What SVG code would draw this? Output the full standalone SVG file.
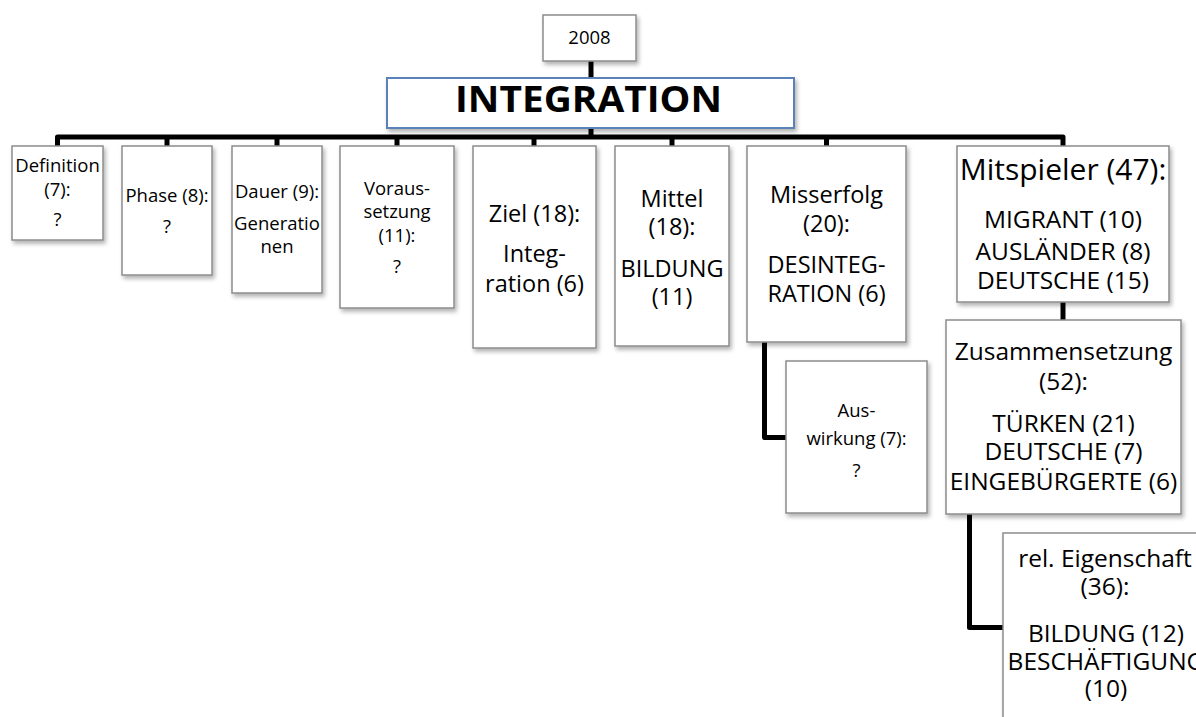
<svg xmlns="http://www.w3.org/2000/svg" width="1196" height="717" viewBox="0 0 1196 717">
<defs>
<filter id="sh" x="-10%" y="-10%" width="130%" height="130%">
<feDropShadow dx="2" dy="3" stdDeviation="2" flood-color="#000" flood-opacity="0.3"/>
</filter>
<style>
.box{fill:#fff;stroke:#8c8c8c;stroke-width:1.5;filter:url(#sh)}
.main{fill:#fff;stroke:#5a82b8;stroke-width:2;filter:url(#sh)}
text{font-family:"Open Sans","Liberation Sans",sans-serif;fill:#000;text-anchor:middle}
.s{font-size:18.5px}
.m{font-size:23.5px}
.l{font-size:24.5px}
.xl{font-size:30px}
.t{font-size:35px;font-weight:bold}
.c{fill:none;stroke:#000;stroke-width:5;stroke-linejoin:round;stroke-linecap:butt}
</style>
</defs>
<g id="connectors">
<path class="c" d="M591,61 V78"/>
<path class="c" d="M591,128 V137"/>
<path class="c" d="M57.5,146 V137 H1063 V146"/>
<path class="c" d="M167,137 V146"/>
<path class="c" d="M277,137 V146"/>
<path class="c" d="M397,137 V146"/>
<path class="c" d="M534,137 V146"/>
<path class="c" d="M672,137 V146"/>
<path class="c" d="M826.5,137 V146"/>
<path class="c" d="M1063,302 V320"/>
<path class="c" d="M764.5,342 V437.5 H786"/>
<path class="c" d="M969.5,514 V627.5 H1003"/>
</g>
<g id="n2008">
<rect class="box" x="543" y="15" width="93" height="46"/>
<text class="s" x="589.5" y="44">2008</text>
</g>
<g id="integration">
<rect class="main" x="387" y="78" width="407" height="50"/>
<text class="t" x="588.5" y="112" textLength="267" lengthAdjust="spacingAndGlyphs">INTEGRATION</text>
</g>
<g id="definition">
<rect class="box" x="12" y="146" width="91" height="94"/>
<text class="s" x="57.5" y="172">Definition</text>
<text class="s" x="57.5" y="196">(7):</text>
<text class="s" x="57.5" y="226">?</text>
</g>
<g id="phase">
<rect class="box" x="122" y="146" width="90" height="129"/>
<text class="s" x="167" y="202">Phase (8):</text>
<text class="s" x="167" y="233">?</text>
</g>
<g id="dauer">
<rect class="box" x="232" y="146" width="90" height="147"/>
<text class="s" x="277" y="198">Dauer (9):</text>
<text class="s" x="277" y="230">Generatio</text>
<text class="s" x="277" y="253">nen</text>
</g>
<g id="voraussetzung">
<rect class="box" x="340" y="146" width="114" height="162"/>
<text class="s" x="397" y="195">Voraus-</text>
<text class="s" x="397" y="218">setzung</text>
<text class="s" x="397" y="242">(11):</text>
<text class="s" x="397" y="273">?</text>
</g>
<g id="ziel">
<rect class="box" x="473" y="146" width="123" height="202"/>
<text class="m" x="534.5" y="222">Ziel (18):</text>
<text class="m" x="534.5" y="262">Integ-</text>
<text class="m" x="534.5" y="292">ration (6)</text>
</g>
<g id="mittel">
<rect class="box" x="615" y="146" width="114" height="200"/>
<text class="m" x="672" y="207">Mittel</text>
<text class="m" x="672" y="235">(18):</text>
<text class="m" x="672" y="277">BILDUNG</text>
<text class="m" x="672" y="305">(11)</text>
</g>
<g id="misserfolg">
<rect class="box" x="747" y="146" width="159" height="196"/>
<text class="m" x="826.5" y="203">Misserfolg</text>
<text class="m" x="826.5" y="232">(20):</text>
<text class="m" x="826.5" y="273">DESINTEG-</text>
<text class="m" x="826.5" y="302">RATION (6)</text>
</g>
<g id="mitspieler">
<rect class="box" x="957" y="146" width="212" height="156"/>
<text class="xl" x="1063" y="180">Mitspieler (47):</text>
<text class="l" x="1063" y="228">MIGRANT (10)</text>
<text class="l" x="1063" y="260">AUSLÄNDER (8)</text>
<text class="l" x="1063" y="289">DEUTSCHE (15)</text>
</g>
<g id="auswirkung">
<rect class="box" x="786" y="361" width="141" height="152"/>
<text class="s" x="856.5" y="417">Aus-</text>
<text class="s" x="856.5" y="445">wirkung (7):</text>
<text class="s" x="856.5" y="477">?</text>
</g>
<g id="zusammensetzung">
<rect class="box" x="946" y="320" width="235" height="194"/>
<text class="l" x="1063.5" y="360">Zusammensetzung</text>
<text class="l" x="1063.5" y="390">(52):</text>
<text class="l" x="1063.5" y="432">TÜRKEN (21)</text>
<text class="l" x="1063.5" y="460">DEUTSCHE (7)</text>
<text class="l" x="1063.5" y="490">EINGEBÜRGERTE (6)</text>
</g>
<g id="eigenschaft">
<rect class="box" x="1003" y="533" width="204" height="200"/>
<text class="l" x="1105" y="567">rel. Eigenschaft</text>
<text class="l" x="1105" y="595">(36):</text>
<text class="l" x="1106" y="642">BILDUNG (12)</text>
<text class="l" x="1106" y="670">BESCHÄFTIGUNG</text>
<text class="l" x="1106" y="697">(10)</text>
</g>
</svg>
